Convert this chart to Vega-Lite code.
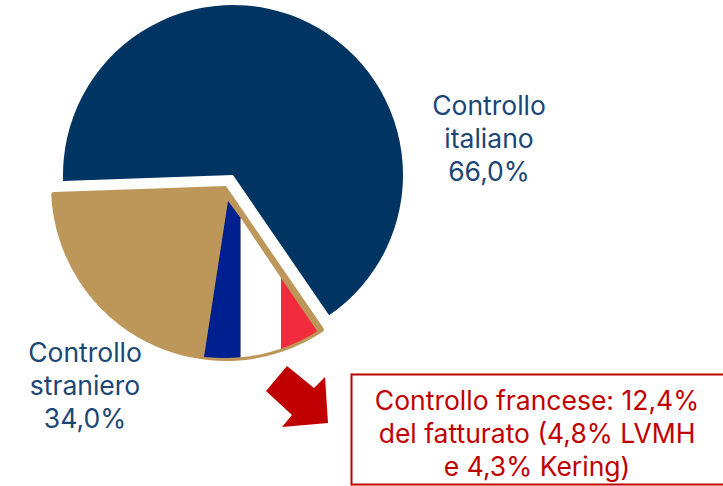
{"$schema":"https://vega.github.io/schema/vega-lite/v6.json","width":723,"height":486,"padding":0,"autosize":{"type":"none"},"background":"white","view":{"stroke":null},"config":{"axis":{"disable":true}},"datasets":{"quote":[{"gruppo":"Controllo italiano","inizio":0,"fine":66.0},{"gruppo":"Controllo straniero","inizio":66.0,"fine":100}],"bandiera":[{"parte":"blu","x":204,"y":357,"y2":357},{"parte":"blu","x":212,"y":305,"y2":357.5},{"parte":"blu","x":220,"y":253,"y2":358},{"parte":"blu","x":228,"y":201,"y2":358},{"parte":"blu","x":240.7,"y":218,"y2":357.3},{"parte":"bianco","x":240.7,"y":218,"y2":357.3},{"parte":"bianco","x":250,"y":231.8,"y2":356.2},{"parte":"bianco","x":260,"y":246.7,"y2":354.4},{"parte":"bianco","x":270,"y":261.6,"y2":352},{"parte":"bianco","x":281,"y":278,"y2":348.7},{"parte":"rosso","x":281,"y":278,"y2":348.7},{"parte":"rosso","x":290,"y":291.2,"y2":345.3},{"parte":"rosso","x":300,"y":305.9,"y2":340.9},{"parte":"rosso","x":310,"y":320.6,"y2":335.7},{"parte":"rosso","x":317,"y":331,"y2":331.5}],"riquadro":[{"lato":"alto","x":351.5,"x2":723,"y":374.5,"y2":374.5},{"lato":"sinistra","x":351.5,"x2":351.5,"y":373.5,"y2":485.5},{"lato":"basso","x":351.5,"x2":723,"y":484.5,"y2":484.5}],"etichette":[{"testo":"Controllo\nitaliano\n66,0%","x":489,"y":106.5,"tipo":"blu"},{"testo":"Controllo\nstraniero\n34,0%","x":85,"y":353.5,"tipo":"blu"},{"testo":"Controllo francese: 12,4%\ndel fatturato (4,8% LVMH\ne 4,3% Kering)","x":537,"y":402,"tipo":"rosso"}]},"layer":[{"data":{"name":"quote"},"transform":[{"filter":"datum.gruppo==='Controllo italiano'"}],"mark":{"type":"arc","outerRadius":170,"fill":"#003462"},"encoding":{"theta":{"field":"inizio","type":"quantitative","scale":{"domain":[0,100],"range":[-1.606,4.677]}},"theta2":{"field":"fine"},"x":{"datum":233,"type":"quantitative","scale":{"domain":[0,723],"range":[0,723],"nice":false,"zero":false}},"y":{"datum":175,"type":"quantitative","scale":{"domain":[0,486],"range":[0,486],"nice":false,"zero":false}}}},{"data":{"name":"quote"},"transform":[{"filter":"datum.gruppo==='Controllo straniero'"}],"mark":{"type":"arc","outerRadius":175,"cornerRadius":3,"fill":"#BD975A"},"encoding":{"theta":{"field":"inizio","type":"quantitative","scale":{"domain":[0,100],"range":[-1.606,4.677]}},"theta2":{"field":"fine"},"x":{"datum":226,"type":"quantitative","scale":{"domain":[0,723],"range":[0,723],"nice":false,"zero":false}},"y":{"datum":186,"type":"quantitative","scale":{"domain":[0,486],"range":[0,486],"nice":false,"zero":false}}}},{"data":{"name":"bandiera"},"mark":{"type":"area","interpolate":"linear"},"encoding":{"x":{"field":"x","type":"quantitative","scale":{"domain":[0,723],"range":[0,723],"nice":false,"zero":false}},"y":{"field":"y","type":"quantitative","scale":{"domain":[0,486],"range":[0,486],"nice":false,"zero":false}},"y2":{"field":"y2"},"color":{"field":"parte","type":"nominal","legend":null,"scale":{"domain":["blu","bianco","rosso"],"range":["#00208F","#FFFFFF","#F22C3D"]}}}},{"data":{"values":[{"nome":"freccia","x":297,"y":396}]},"mark":{"type":"point","filled":true,"opacity":1,"size":4,"fill":"#C00000","stroke":null,"shape":"M -10 -30 L -31 -5 L -5 19 L -15 31 L 31 27 L 28 -19 L 17 -8 Z"},"encoding":{"x":{"field":"x","type":"quantitative","scale":{"domain":[0,723],"range":[0,723],"nice":false,"zero":false}},"y":{"field":"y","type":"quantitative","scale":{"domain":[0,486],"range":[0,486],"nice":false,"zero":false}}}},{"data":{"name":"riquadro"},"mark":{"type":"rule","stroke":"#C00000","strokeWidth":2},"encoding":{"x":{"field":"x","type":"quantitative","scale":{"domain":[0,723],"range":[0,723],"nice":false,"zero":false}},"x2":{"field":"x2"},"y":{"field":"y","type":"quantitative","scale":{"domain":[0,486],"range":[0,486],"nice":false,"zero":false}},"y2":{"field":"y2"},"detail":{"field":"lato"}}},{"data":{"name":"etichette"},"mark":{"type":"text","font":"Inter","fontSize":26.5,"lineBreak":"\n","lineHeight":33,"align":"center","baseline":"middle"},"encoding":{"text":{"field":"testo"},"x":{"field":"x","type":"quantitative","scale":{"domain":[0,723],"range":[0,723],"nice":false,"zero":false}},"y":{"field":"y","type":"quantitative","scale":{"domain":[0,486],"range":[0,486],"nice":false,"zero":false}},"color":{"field":"tipo","type":"nominal","legend":null,"scale":{"domain":["blu","rosso"],"range":["#1B4675","#C00000"]}}}}],"resolve":{"scale":{"color":"independent"}}}
